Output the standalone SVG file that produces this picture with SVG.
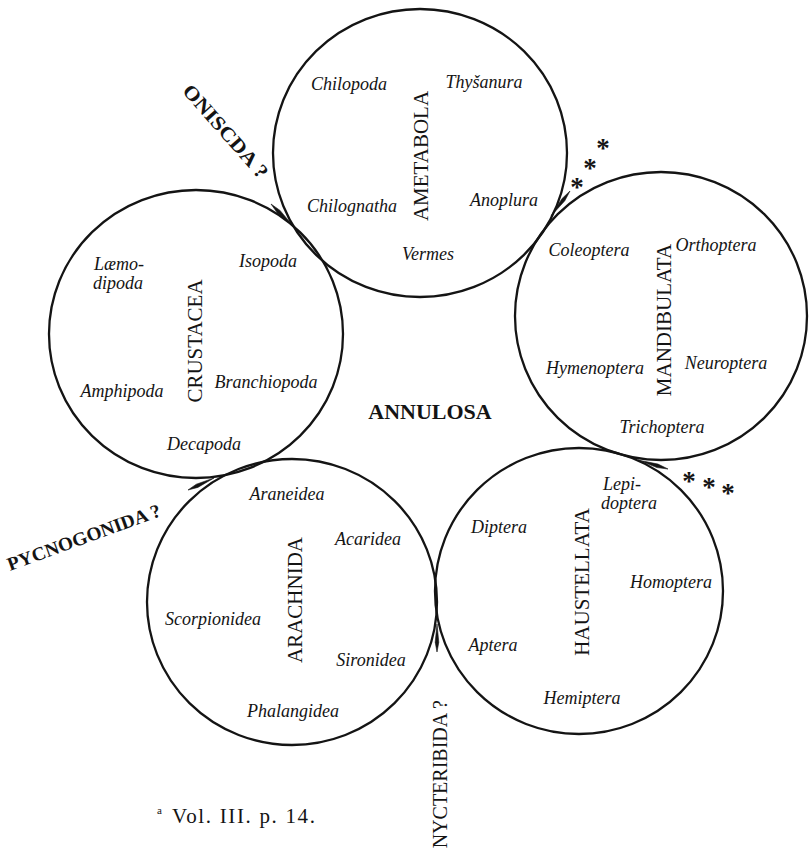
<svg xmlns="http://www.w3.org/2000/svg" width="810" height="860" viewBox="0 0 810 860">
<style>
.ring{fill:none;stroke:#141414;stroke-width:2.3}
.it{font-family:"Liberation Serif","Times New Roman",serif;font-style:italic;font-size:18px;text-anchor:middle;fill:#141414}
.cap{font-family:"Liberation Serif","Times New Roman",serif;font-size:21px;text-anchor:middle;fill:#141414}
.lab{font-family:"Liberation Serif","Times New Roman",serif;fill:#141414}
.spike{fill:#141414;stroke:#141414;stroke-width:0.6}
.star{font-family:"Liberation Serif","Times New Roman",serif;font-weight:bold;font-size:27px;text-anchor:middle;fill:#141414}
</style>
<rect width="810" height="860" fill="#ffffff"/>

<g id="ametabola">
<ellipse class="ring" cx="420" cy="153" rx="147" ry="144"/>
<text class="cap" transform="translate(428,156) rotate(-90)">AMETABOLA</text>
<text class="it" x="349" y="90">Chilopoda</text>
<text class="it" x="484" y="88">Thyšanura</text>
<text class="it" x="352" y="212">Chilognatha</text>
<text class="it" x="504" y="206">Anoplura</text>
<text class="it" x="428" y="260">Vermes</text>
</g>

<g id="crustacea">
<ellipse class="ring" cx="196" cy="334" rx="147" ry="144"/>
<text class="cap" transform="translate(202,341) rotate(-90)">CRUSTACEA</text>
<text class="it" x="119" y="270">Læmo-</text>
<text class="it" x="118" y="289">dipoda</text>
<text class="it" x="268" y="267">Isopoda</text>
<text class="it" x="122" y="397">Amphipoda</text>
<text class="it" x="266" y="388">Branchiopoda</text>
<text class="it" x="204" y="450">Decapoda</text>
</g>

<g id="mandibulata">
<ellipse class="ring" cx="661" cy="316" rx="146" ry="144"/>
<text class="cap" transform="translate(671,320) rotate(-90)">MANDIBULATA</text>
<text class="it" x="589" y="256">Coleoptera</text>
<text class="it" x="716" y="251">Orthoptera</text>
<text class="it" x="595" y="374">Hymenoptera</text>
<text class="it" x="726" y="369">Neuroptera</text>
<text class="it" x="662" y="433">Trichoptera</text>
</g>

<g id="arachnida">
<ellipse class="ring" cx="292" cy="602" rx="145" ry="143"/>
<text class="cap" transform="translate(302,600) rotate(-90)">ARACHNIDA</text>
<text class="it" x="287" y="500">Araneidea</text>
<text class="it" x="368" y="545">Acaridea</text>
<text class="it" x="213" y="625">Scorpionidea</text>
<text class="it" x="371" y="666">Sironidea</text>
<text class="it" x="293" y="717">Phalangidea</text>
</g>

<g id="haustellata">
<ellipse class="ring" cx="579" cy="591" rx="144" ry="143"/>
<text class="cap" transform="translate(589,582) rotate(-90)">HAUSTELLATA</text>
<text class="it" x="622" y="490">Lepi-</text>
<text class="it" x="629" y="509">doptera</text>
<text class="it" x="499" y="533">Diptera</text>
<text class="it" x="671" y="588">Homoptera</text>
<text class="it" x="493" y="651">Aptera</text>
<text class="it" x="582" y="704">Hemiptera</text>
</g>

<g id="annulosa">
<text class="lab" x="430" y="419" font-size="22" font-weight="bold" text-anchor="middle">ANNULOSA</text>
</g>

<g id="connectors">
<polygon class="spike" points="293,226 280,210.4 271,204 277.4,213"/>
<polygon class="spike" points="551,216 564.8,200.8 570,191 561.9,198.7"/>
<polygon class="spike" points="638,460 657,467.6 668,469 658,464.1"/>
<polygon class="spike" points="214,478 196.35,484.2 188,490 197.85,487.4"/>
<polygon class="spike" points="437,624 435.2,642.2 437,652 438.8,642.2"/>
</g>

<g id="oniscida">
<text class="lab" transform="translate(181.5,91.6) rotate(48.5)" font-size="20" font-weight="bold" textLength="118" lengthAdjust="spacingAndGlyphs">ONISCDA ?</text>
</g>
<g id="pycnogonida">
<text class="lab" transform="translate(10,571) rotate(-20)" font-size="19" font-weight="bold" textLength="162" lengthAdjust="spacingAndGlyphs">PYCNOGONIDA ?</text>
</g>
<g id="nycteribida">
<text class="lab" transform="translate(447,700) rotate(-90)" font-size="20" text-anchor="end">NYCTERIBIDA ?</text>
</g>
<g id="unknown-upper">
<text class="star" x="577 590 603" y="196 177 157">***</text>
</g>
<g id="unknown-lower">
<text class="star" x="689 709 728" y="490 496 502">***</text>
</g>

<g id="footnote">
<text class="lab" x="157" y="814" font-size="11">a</text>
<text class="lab" x="172" y="823" font-size="21" textLength="143" lengthAdjust="spacing">Vol. III. p. 14.</text>
</g>
</svg>
